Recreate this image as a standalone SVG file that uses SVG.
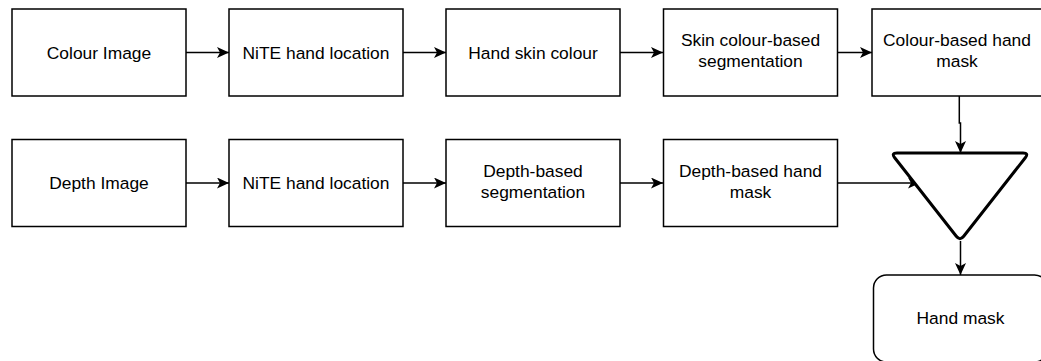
<svg xmlns="http://www.w3.org/2000/svg" width="1041" height="361" viewBox="0 0 1041 361">
<style>
.box{fill:#fff;stroke:#000;stroke-width:1.5}
.tri{fill:#fff;stroke:#000;stroke-width:3}
.lbl{font-family:"Liberation Sans",Arial,Helvetica,sans-serif;font-size:17.4px;fill:#000;text-anchor:middle}
.edge{fill:none;stroke:#000;stroke-width:1.5}
</style>
<defs>
<marker id="arr" viewBox="0 0 12 11" refX="12" refY="5.5" markerWidth="12" markerHeight="11" markerUnits="userSpaceOnUse" orient="auto">
<path d="M0,0 L12,5.5 L0,11 L3,5.5 Z" fill="#000"/>
</marker>
</defs>
<rect width="1041" height="361" fill="#fff"/>
<g id="connectors">
<path class="edge" d="M186,52.5 H229" marker-end="url(#arr)"/>
<path class="edge" d="M403,52.5 H446" marker-end="url(#arr)"/>
<path class="edge" d="M620,52.5 H663" marker-end="url(#arr)"/>
<path class="edge" d="M838,52.5 H872" marker-end="url(#arr)"/>
<path class="edge" d="M186,183 H229" marker-end="url(#arr)"/>
<path class="edge" d="M403,183 H446" marker-end="url(#arr)"/>
<path class="edge" d="M620,183 H663" marker-end="url(#arr)"/>
<path class="edge" d="M838,183 H920" marker-end="url(#arr)"/>
<path class="edge" d="M959.3,96 V123 H960.5 V153" marker-end="url(#arr)"/>
<path class="edge" d="M960.5,241 V275" marker-end="url(#arr)"/>
</g>
<g id="n1"><rect class="box" x="12" y="9" width="174" height="87"/><text class="lbl" x="99" y="58.6">Colour Image</text></g>
<g id="n2"><rect class="box" x="229" y="9" width="174" height="87"/><text class="lbl" x="316" y="58.6">NiTE hand location</text></g>
<g id="n3"><rect class="box" x="446" y="9" width="174" height="87"/><text class="lbl" x="533" y="58.6">Hand skin colour</text></g>
<g id="n4"><rect class="box" x="663.5" y="9" width="174" height="87"/><text class="lbl" x="750.5" y="46">Skin colour-based</text><text class="lbl" x="750.5" y="67">segmentation</text></g>
<g id="n5"><rect class="box" x="872" y="9" width="174" height="87"/><text class="lbl" x="957" y="46">Colour-based hand</text><text class="lbl" x="957" y="67">mask</text></g>
<g id="n6"><rect class="box" x="12" y="139.5" width="174" height="87"/><text class="lbl" x="99" y="189">Depth Image</text></g>
<g id="n7"><rect class="box" x="229" y="139.5" width="174" height="87"/><text class="lbl" x="316" y="189">NiTE hand location</text></g>
<g id="n8"><rect class="box" x="446" y="139.5" width="174" height="87"/><text class="lbl" x="533" y="176.5">Depth-based</text><text class="lbl" x="533" y="197.5">segmentation</text></g>
<g id="n9"><rect class="box" x="663.5" y="139.5" width="174" height="87"/><text class="lbl" x="750.5" y="176.5">Depth-based hand</text><text class="lbl" x="750.5" y="197.5">mask</text></g>
<g id="n10"><path class="tri" d="M897,153 H1023 Q1029,153 1025.3,157.7 L963.7,236.3 Q960,241 956.3,236.3 L894.7,157.7 Q891,153 897,153 Z"/></g>
<g id="n11"><rect class="box" x="873.5" y="275" width="174" height="87" rx="13" ry="13"/><text class="lbl" x="960.5" y="324">Hand mask</text></g>
</svg>
